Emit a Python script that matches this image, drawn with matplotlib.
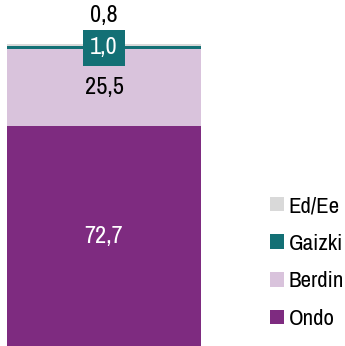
import matplotlib

matplotlib.use("Agg")
import matplotlib.pyplot as plt

plt.rcParams["font.family"] = ["Archivo Narrow", "DejaVu Sans"]

categories = ["Ondo", "Berdin", "Gaizki", "Ed/Ee"]
values = [72.7, 25.5, 1.0, 0.8]
labels = ["72,7", "25,5", "1,0", "0,8"]
colors = ["#7e2b80", "#d9c3dc", "#137075", "#d9d9d9"]

fig = plt.figure(figsize=(3.45, 3.46), dpi=100)
ax = fig.add_axes([7 / 345, 0, 194 / 345, 302 / 346])

bars = []
bottom = 0
for cat, val, col in zip(categories, values, colors):
    b = ax.bar(0, val, bottom=bottom, width=1.0, color=col, label=cat)
    bars.append(b)
    bottom += val

ax.set_xlim(-0.5, 0.5)
ax.set_ylim(0, 100)
ax.axis("off")

fs = 17.5
# big segments: label in the middle
ax.text(0, values[0] / 2, labels[0], ha="center", va="center",
        color="white", fontsize=fs)
ax.text(0, values[0] + values[1] / 2, labels[1], ha="center", va="center",
        color="black", fontsize=fs)
# thin segments: boxed label on the bar, plain label above it
y_g = values[0] + values[1] + values[2] / 2
ax.text(0, y_g, labels[2], ha="center", va="center", color="white",
        fontsize=fs, zorder=5,
        bbox=dict(boxstyle="square,pad=0.3", fc=colors[2], ec="none"))
ax.text(0, 100 + 9.6, labels[3], ha="center", va="center", color="black",
        fontsize=fs, clip_on=False)

handles = [b.patches[0] for b in bars][::-1]
fig.legend(handles, categories[::-1], loc="upper left",
           bbox_to_anchor=(261 / 345, 1 - 187 / 346), frameon=False,
           fontsize=16.5, handlelength=0.6, handleheight=0.6,
           handletextpad=0.2, labelspacing=0.77, borderaxespad=0)

fig.savefig("out.png", dpi=100)
